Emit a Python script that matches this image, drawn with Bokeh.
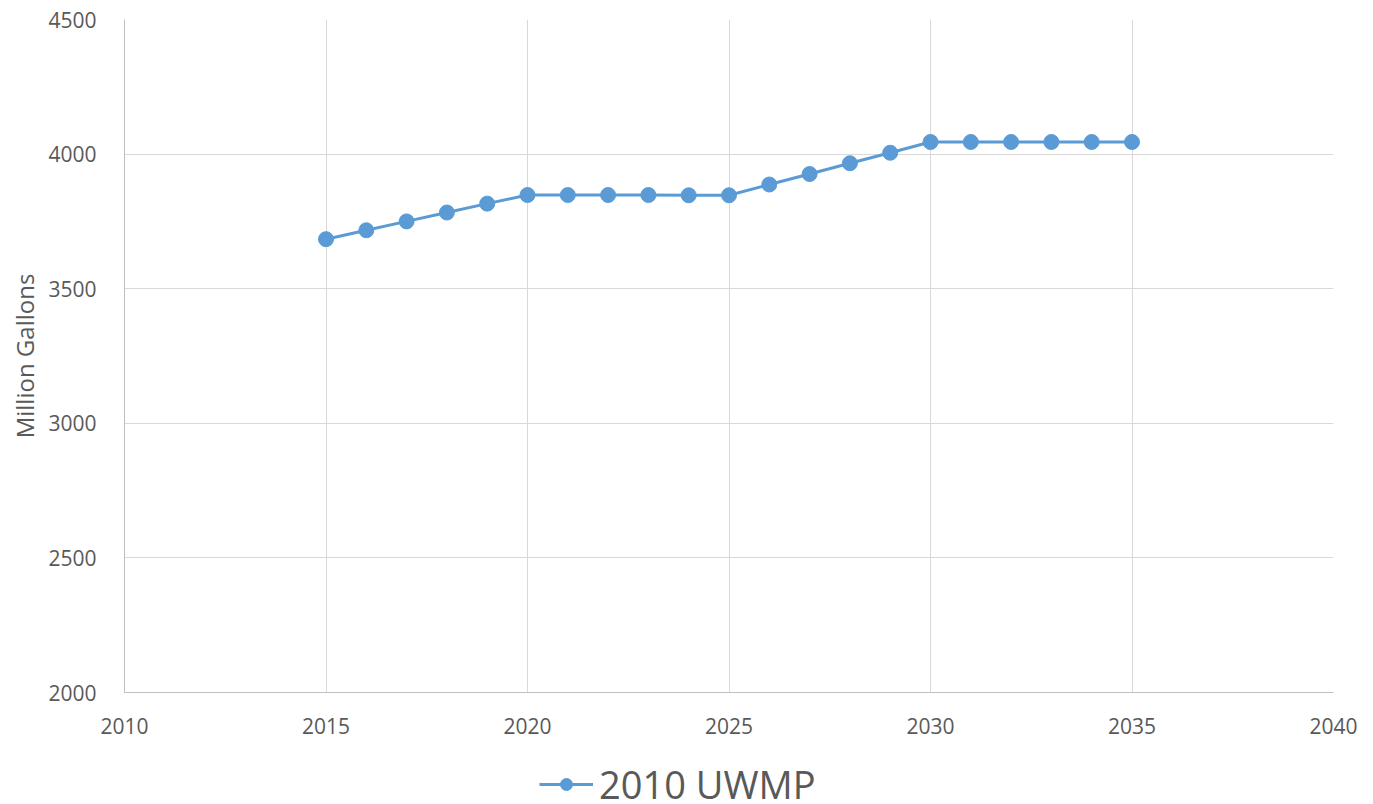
from bokeh.plotting import figure
from bokeh.models import Legend, LegendItem, FixedTicker, Range1d
from bokeh.layouts import column
from bokeh.embed import file_html
from bokeh.resources import INLINE

years = list(range(2015, 2036))
uwmp_2010 = [3684, 3717, 3750, 3783, 3816, 3848, 3848, 3848, 3848, 3847, 3847,
             3887, 3926, 3966, 4005, 4045, 4045, 4045, 4045, 4045, 4045]
series_name = "2010 UWMP"
x_ticks = [2010, 2015, 2020, 2025, 2030, 2035, 2040]
y_ticks = [2000, 2500, 3000, 3500, 4000, 4500]

FONT = "Open Sans"
GRAY = "#595959"
BLUE = "#5b9bd5"

p = figure(width=1365, height=744, output_backend="svg", toolbar_location=None,
           x_range=Range1d(2010, 2040), y_range=Range1d(2000, 4500),
           min_border_left=124, min_border_right=32, min_border_top=19, min_border_bottom=52)
p.outline_line_color = None

ln = p.line(years, uwmp_2010, line_color=BLUE, line_width=3)
sc = p.scatter(years, uwmp_2010, size=15, fill_color=BLUE, line_color=BLUE)

for ax in (p.xaxis[0], p.yaxis[0]):
    ax.major_label_text_font = FONT
    ax.major_label_text_font_size = "21px"
    ax.major_label_text_color = GRAY
    ax.major_tick_line_color = None
    ax.minor_tick_line_color = None
    ax.axis_line_color = "#bfbfbf"
    ax.axis_line_width = 1

p.xaxis.ticker = FixedTicker(ticks=x_ticks)
p.yaxis.ticker = FixedTicker(ticks=y_ticks)
p.xaxis.major_label_standoff = 19
p.yaxis.major_label_standoff = 22
p.yaxis.axis_label = "Million Gallons"
p.yaxis.axis_label_text_font = FONT
p.yaxis.axis_label_text_font_size = "24px"
p.yaxis.axis_label_text_font_style = "normal"
p.yaxis.axis_label_text_color = GRAY
p.yaxis.axis_label_standoff = 4

p.xgrid.ticker = FixedTicker(ticks=x_ticks)
p.ygrid.ticker = FixedTicker(ticks=y_ticks)
p.grid.grid_line_color = "#d9d9d9"
p.grid.grid_line_width = 1

# legend strip below the chart (series drawn out of view; only the legend shows)
leg = figure(width=1365, height=60, output_backend="svg", toolbar_location=None,
             x_range=Range1d(0, 1), y_range=Range1d(0, 1),
             x_axis_type=None, y_axis_type=None,
             min_border_left=0, min_border_right=0, min_border_top=0, min_border_bottom=0)
leg.outline_line_color = None
leg.grid.visible = False
lln = leg.line(years, uwmp_2010, line_color=BLUE, line_width=3)
lsc = leg.scatter(years, uwmp_2010, size=15, fill_color=BLUE, line_color=BLUE)
legend = Legend(items=[LegendItem(label=series_name, renderers=[lln, lsc])],
                location=(415, -6), orientation="horizontal",
                label_text_font=FONT, label_text_font_size="38px",
                label_text_color=GRAY, border_line_color=None,
                background_fill_alpha=0, glyph_width=54, glyph_height=30,
                label_height=30, label_standoff=6, padding=0, margin=0, spacing=0)
leg.add_layout(legend, "center")

layout = column(p, leg, spacing=0)
open("out.html", "w").write(file_html(layout, INLINE))
